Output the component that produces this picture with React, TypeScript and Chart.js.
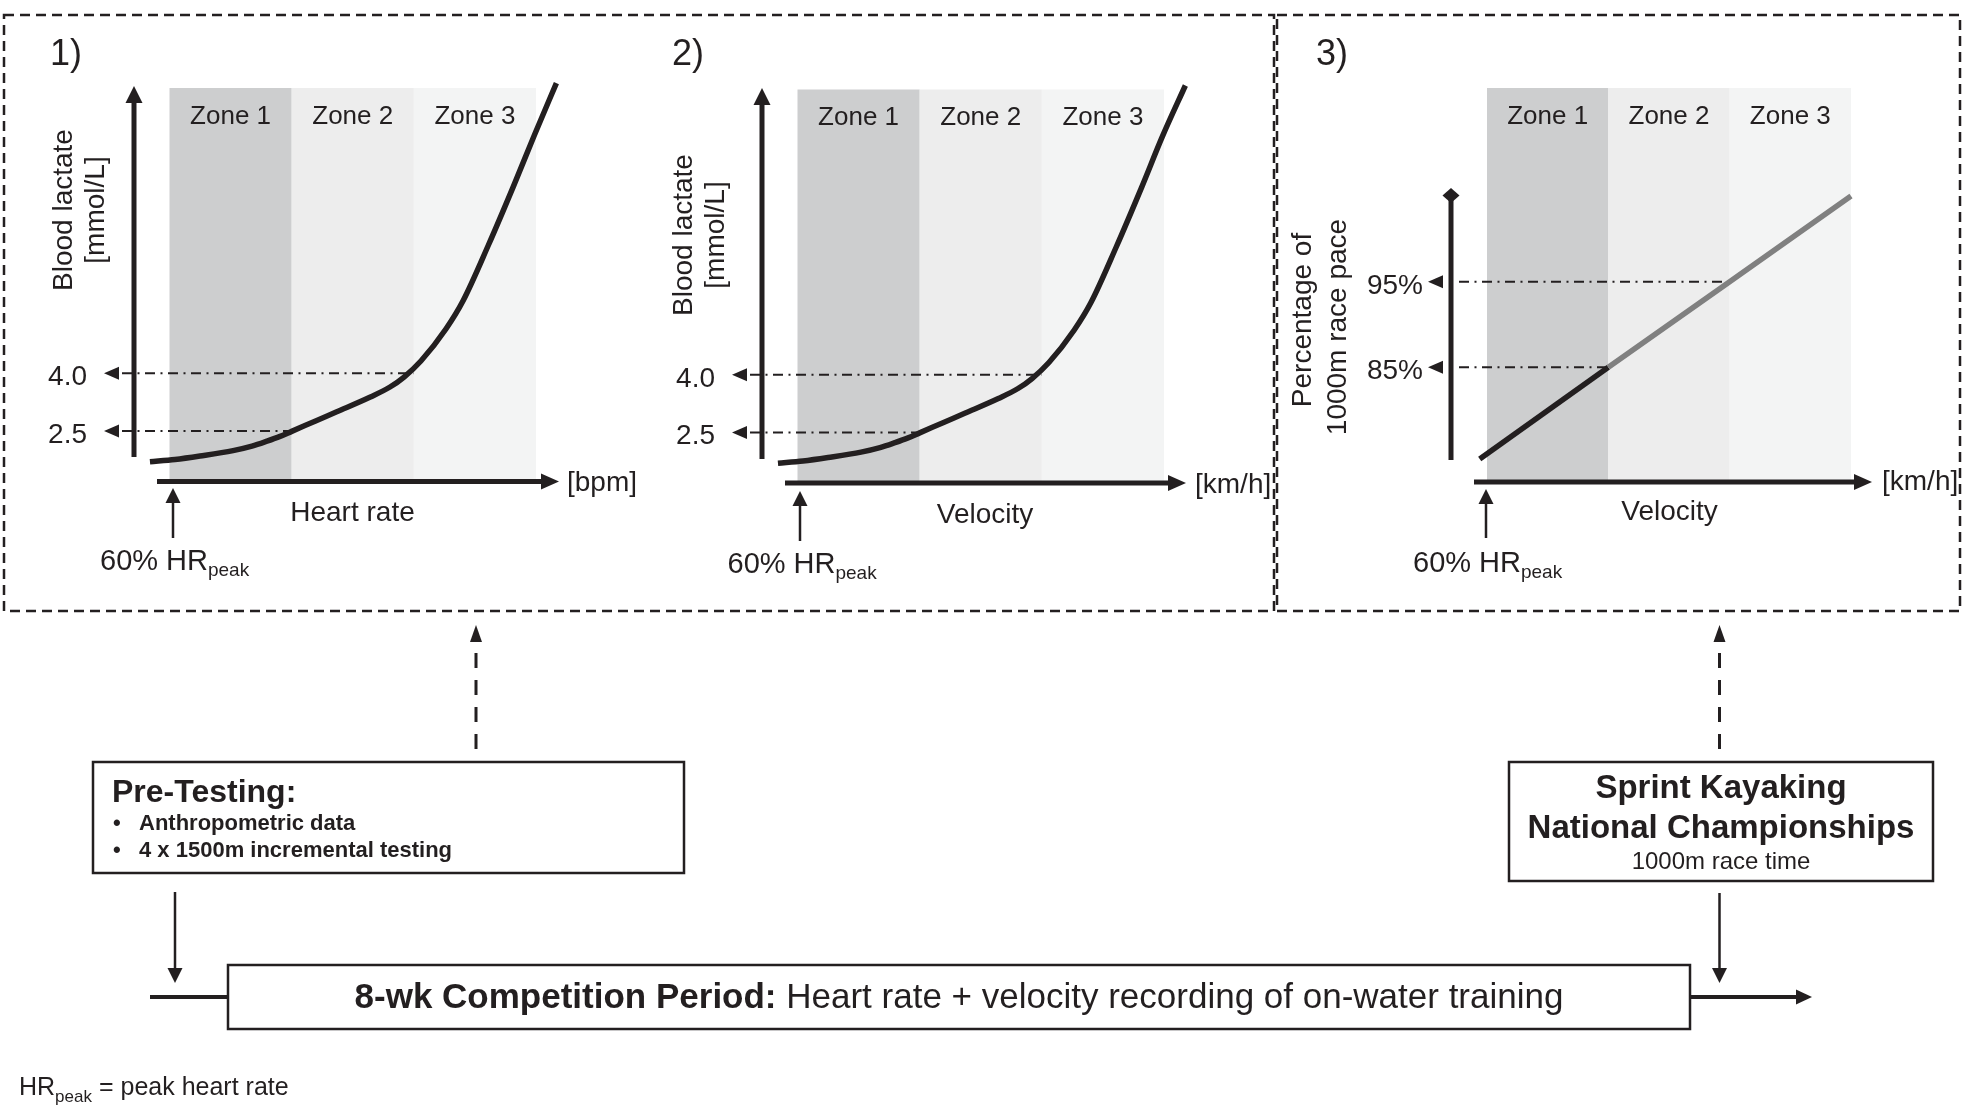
import React, { useEffect, useRef } from "react";
import { Chart, registerables } from "chart.js";

Chart.register(...registerables);

const W = 1968;
const H = 1107;
const FONT = '"Liberation Sans", Arial, Helvetica, sans-serif';
const INK = "#231f20";
const GREY_LINE = "#808080";

// ---------- data ----------
const zoneNames = ["Zone 1", "Zone 2", "Zone 3"];
const zoneEdges = [0, 1, 2, 3];
const zoneFills = ["#cdcecf", "#ededed", "#f3f4f4"];

// panel 1: lactate vs heart rate (x in zone units)
const heartRateX = [-0.16, 0.045, 0.25, 0.52, 0.675, 0.798, 0.905, 1.0, 1.191, 1.369, 1.644, 1.805, 1.92, 2.058, 2.264, 2.402, 2.609, 2.816, 2.988, 3.167];
const lactateHR = [1.702, 1.76, 1.85, 1.99, 2.107, 2.236, 2.36, 2.49, 2.755, 3.0, 3.384, 3.643, 3.903, 4.319, 5.159, 5.879, 7.322, 8.866, 10.202, 11.541];

// panel 2: lactate vs velocity
const velocityX = [-0.16, 0.045, 0.25, 0.52, 0.675, 0.798, 0.905, 1.0, 1.191, 1.369, 1.644, 1.805, 1.92, 2.058, 2.264, 2.402, 2.609, 2.816, 2.988, 3.175];
const lactateVel = [1.702, 1.76, 1.85, 1.99, 2.107, 2.236, 2.36, 2.49, 2.755, 3.0, 3.384, 3.643, 3.903, 4.319, 5.159, 5.879, 7.322, 8.866, 10.202, 11.52];

const lactateRefs = [2.5, 4.0];
const lactateRefLabels = ["2.5", "4.0"];
const lactateRefEnds = [1, 2];

// panel 3: % of 1000 m race pace vs velocity
const paceX = [-0.06, 1, 2, 3];
const pacePct = [74.3, 85, 95, 105];
const paceSplit = 1;

const paceRefs = [85, 95];
const paceRefLabels = ["85%", "95%"];
const paceRefEnds = [1, 2];

type Panel = {
  key: string;
  num: string;
  numX: number;
  numBase: number;
  area: { l: number; t: number; r: number; b: number };
  yMin: number;
  yMax: number;
  xs: number[];
  ys: number[];
  split: number | null;
  refs: number[];
  refLabels: string[];
  refEnds: number[];
  refLabelRight: number;
  refArrowTip: number;
  refLineStart: number;
  yAxisX: number;
  yAxisTip: number;
  yAxisBottom: number;
  yHead: "arrow" | "diamond";
  xAxisStart: number;
  xAxisTip: number;
  zoneLabelBase: number;
  yTitles: { text: string; base: number; center: number }[];
  xTitle: string;
  xTitleX: number;
  xTitleBase: number;
  unit: string;
  unitX: number;
  unitBase: number;
  hrX: number;
  hrTip: number;
  hrBottom: number;
  hrTextX: number;
  hrTextBase: number;
};

const panels: Panel[] = [
  {
    key: "p1",
    num: "1)",
    numX: 50,
    numBase: 65,
    area: { l: 169.5, t: 88, r: 536, b: 481.5 },
    yMin: 1.187,
    yMax: 11.416,
    xs: heartRateX,
    ys: lactateHR,
    split: null,
    refs: lactateRefs,
    refLabels: lactateRefLabels,
    refEnds: lactateRefEnds,
    refLabelRight: 87,
    refArrowTip: 104,
    refLineStart: 122,
    yAxisX: 134,
    yAxisTip: 86,
    yAxisBottom: 457,
    yHead: "arrow",
    xAxisStart: 157,
    xAxisTip: 559,
    zoneLabelBase: 123.5,
    yTitles: [
      { text: "Blood lactate", base: 71.5, center: 210 },
      { text: "[mmol/L]", base: 104, center: 210 },
    ],
    xTitle: "Heart rate",
    xTitleX: 352.5,
    xTitleBase: 520.5,
    unit: "[bpm]",
    unitX: 567,
    unitBase: 490.5,
    hrX: 173,
    hrTip: 488,
    hrBottom: 538,
    hrTextX: 100,
    hrTextBase: 570,
  },
  {
    key: "p2",
    num: "2)",
    numX: 672,
    numBase: 65,
    area: { l: 797.5, t: 89.5, r: 1164, b: 483 },
    yMin: 1.187,
    yMax: 11.416,
    xs: velocityX,
    ys: lactateVel,
    split: null,
    refs: lactateRefs,
    refLabels: lactateRefLabels,
    refEnds: lactateRefEnds,
    refLabelRight: 715,
    refArrowTip: 732,
    refLineStart: 750,
    yAxisX: 762,
    yAxisTip: 88,
    yAxisBottom: 459,
    yHead: "arrow",
    xAxisStart: 785,
    xAxisTip: 1186,
    zoneLabelBase: 125,
    yTitles: [
      { text: "Blood lactate", base: 692, center: 235 },
      { text: "[mmol/L]", base: 724, center: 235 },
    ],
    xTitle: "Velocity",
    xTitleX: 985,
    xTitleBase: 523,
    unit: "[km/h]",
    unitX: 1195,
    unitBase: 493,
    hrX: 800,
    hrTip: 491,
    hrBottom: 541,
    hrTextX: 727.5,
    hrTextBase: 573,
  },
  {
    key: "p3",
    num: "3)",
    numX: 1316,
    numBase: 65,
    area: { l: 1487, t: 88, r: 1851, b: 482 },
    yMin: 71.6,
    yMax: 117.63,
    xs: paceX,
    ys: pacePct,
    split: paceSplit,
    refs: paceRefs,
    refLabels: paceRefLabels,
    refEnds: paceRefEnds,
    refLabelRight: 1423,
    refArrowTip: 1428,
    refLineStart: 1459,
    yAxisX: 1451,
    yAxisTip: 188,
    yAxisBottom: 460,
    yHead: "diamond",
    xAxisStart: 1474,
    xAxisTip: 1872,
    zoneLabelBase: 123.5,
    yTitles: [
      { text: "Percentage of", base: 1311, center: 320 },
      { text: "1000m race pace", base: 1345.7, center: 327 },
    ],
    xTitle: "Velocity",
    xTitleX: 1669.5,
    xTitleBase: 519.5,
    unit: "[km/h]",
    unitX: 1882,
    unitBase: 490,
    hrX: 1486,
    hrTip: 489,
    hrBottom: 538,
    hrTextX: 1413,
    hrTextBase: 572,
  },
];

function tri(ctx: CanvasRenderingContext2D, pts: number[][]) {
  ctx.beginPath();
  ctx.moveTo(pts[0][0], pts[0][1]);
  for (let i = 1; i < pts.length; i++) ctx.lineTo(pts[i][0], pts[i][1]);
  ctx.closePath();
  ctx.fill();
}

function makePlugin(p: Panel) {
  return {
    id: "deco_" + p.key,
    beforeDatasetsDraw(chart: any) {
      const ctx: CanvasRenderingContext2D = chart.ctx;
      const xs = chart.scales.x;
      const ys = chart.scales.y;
      const a = chart.chartArea;
      ctx.save();
      for (let i = 0; i < zoneNames.length; i++) {
        const x0 = xs.getPixelForValue(zoneEdges[i]);
        const x1 = xs.getPixelForValue(zoneEdges[i + 1]);
        ctx.fillStyle = zoneFills[i];
        ctx.fillRect(x0, a.top, x1 - x0, a.bottom - a.top);
      }
      ctx.fillStyle = INK;
      ctx.font = `26px ${FONT}`;
      ctx.textAlign = "center";
      ctx.textBaseline = "alphabetic";
      for (let i = 0; i < zoneNames.length; i++) {
        const x0 = xs.getPixelForValue(zoneEdges[i]);
        const x1 = xs.getPixelForValue(zoneEdges[i + 1]);
        ctx.fillText(zoneNames[i], (x0 + x1) / 2, p.zoneLabelBase);
      }
      ctx.strokeStyle = INK;
      ctx.lineWidth = 2;
      ctx.setLineDash([10, 5.5, 2, 5.5]);
      p.refs.forEach((v, i) => {
        const y = ys.getPixelForValue(v);
        const xe = xs.getPixelForValue(p.refEnds[i]);
        ctx.beginPath();
        ctx.moveTo(p.refLineStart, y);
        ctx.lineTo(xe, y);
        ctx.stroke();
      });
      ctx.setLineDash([]);
      ctx.restore();
    },
    afterDatasetsDraw(chart: any) {
      const ctx: CanvasRenderingContext2D = chart.ctx;
      const ys = chart.scales.y;
      const a = chart.chartArea;
      ctx.save();
      ctx.fillStyle = INK;
      ctx.strokeStyle = INK;
      if (p.yHead === "arrow") {
        ctx.fillRect(p.yAxisX - 2.5, p.yAxisTip + 15, 5, p.yAxisBottom - p.yAxisTip - 15);
        tri(ctx, [
          [p.yAxisX, p.yAxisTip],
          [p.yAxisX - 8.5, p.yAxisTip + 17],
          [p.yAxisX + 8.5, p.yAxisTip + 17],
        ]);
      } else {
        ctx.fillRect(p.yAxisX - 2.5, p.yAxisTip + 8, 5, p.yAxisBottom - p.yAxisTip - 8);
        tri(ctx, [
          [p.yAxisX, p.yAxisTip],
          [p.yAxisX + 8.5, p.yAxisTip + 7.5],
          [p.yAxisX, p.yAxisTip + 15],
          [p.yAxisX - 8.5, p.yAxisTip + 7.5],
        ]);
      }
      const xy = a.bottom;
      ctx.fillRect(p.xAxisStart, xy - 2.5, p.xAxisTip - 17 - p.xAxisStart, 5);
      tri(ctx, [
        [p.xAxisTip, xy],
        [p.xAxisTip - 18, xy - 8],
        [p.xAxisTip - 18, xy + 8],
      ]);
      ctx.font = `28px ${FONT}`;
      ctx.textAlign = "right";
      ctx.textBaseline = "alphabetic";
      p.refs.forEach((v, i) => {
        const y = ys.getPixelForValue(v);
        tri(ctx, [
          [p.refArrowTip, y],
          [p.refArrowTip + 15, y - 6.5],
          [p.refArrowTip + 15, y + 6.5],
        ]);
        ctx.fillText(p.refLabels[i], p.refLabelRight, y + 12);
      });
      ctx.textAlign = "left";
      ctx.font = `36px ${FONT}`;
      ctx.fillText(p.num, p.numX, p.numBase);
      ctx.font = `28px ${FONT}`;
      ctx.textAlign = "center";
      p.yTitles.forEach((t) => {
        ctx.save();
        ctx.translate(t.base, t.center);
        ctx.rotate(-Math.PI / 2);
        ctx.fillText(t.text, 0, 0);
        ctx.restore();
      });
      ctx.fillText(p.xTitle, p.xTitleX, p.xTitleBase);
      ctx.textAlign = "left";
      ctx.fillText(p.unit, p.unitX, p.unitBase);
      ctx.lineWidth = 2.5;
      ctx.beginPath();
      ctx.moveTo(p.hrX, p.hrBottom);
      ctx.lineTo(p.hrX, p.hrTip + 12);
      ctx.stroke();
      tri(ctx, [
        [p.hrX, p.hrTip],
        [p.hrX - 7.5, p.hrTip + 15],
        [p.hrX + 7.5, p.hrTip + 15],
      ]);
      ctx.font = `29px ${FONT}`;
      const main = "60% HR";
      ctx.fillText(main, p.hrTextX, p.hrTextBase);
      const w = ctx.measureText(main).width;
      ctx.font = `19px ${FONT}`;
      ctx.fillText("peak", p.hrTextX + w, p.hrTextBase + 6);
      ctx.restore();
    },
  };
}

function PanelChart({ p }: { p: Panel }) {
  const ref = useRef<HTMLCanvasElement | null>(null);
  useEffect(() => {
    if (!ref.current) return;
    const pts = p.xs.map((x, i) => ({ x, y: p.ys[i] }));
    const datasets: any[] = [];
    if (p.split === null) {
      datasets.push({
        data: pts,
        borderColor: INK,
        borderWidth: 5.5,
        pointRadius: 0,
        fill: false,
        cubicInterpolationMode: "monotone",
        clip: false,
      });
    } else {
      datasets.push({
        data: pts.slice(p.split),
        borderColor: GREY_LINE,
        borderWidth: 5.5,
        pointRadius: 0,
        fill: false,
        tension: 0,
        clip: false,
      });
      datasets.push({
        data: pts.slice(0, p.split + 1),
        borderColor: INK,
        borderWidth: 5.5,
        pointRadius: 0,
        fill: false,
        tension: 0,
        clip: false,
      });
    }
    const chart = new Chart(ref.current, {
      type: "line",
      data: { datasets },
      options: {
        animation: false,
        responsive: false,
        maintainAspectRatio: false,
        devicePixelRatio: 1,
        events: [],
        layout: {
          padding: { left: p.area.l, top: p.area.t, right: W - p.area.r, bottom: H - p.area.b },
        },
        scales: {
          x: { type: "linear", min: 0, max: 3, display: false },
          y: { type: "linear", min: p.yMin, max: p.yMax, display: false },
        },
        plugins: { legend: { display: false }, tooltip: { enabled: false } },
      } as any,
      plugins: [makePlugin(p) as any],
    });
    return () => chart.destroy();
  }, [p]);
  return (
    <canvas
      ref={ref}
      width={W}
      height={H}
      style={{ position: "absolute", left: 0, top: 0, width: W, height: H }}
    />
  );
}

function Flow() {
  const s = { fill: "none", stroke: INK } as const;
  return (
    <svg
      width={W}
      height={H}
      style={{ position: "absolute", left: 0, top: 0, pointerEvents: "none" }}
      fontFamily={FONT}
    >
      <rect x={4} y={15} width={1270} height={596} {...s} strokeWidth={2.5} strokeDasharray="10 6" />
      <rect x={1277} y={15} width={683} height={596} {...s} strokeWidth={2.5} strokeDasharray="10 6" />

      <line x1={476} y1={749} x2={476} y2={641} {...s} strokeWidth={3} strokeDasharray="15 12" />
      <polygon points="476,625 470,642 482,642" fill={INK} />
      <line x1={1719.5} y1={749} x2={1719.5} y2={641} {...s} strokeWidth={3} strokeDasharray="15 12" />
      <polygon points="1719.5,625 1713.5,642 1725.5,642" fill={INK} />

      <rect x={93} y={762} width={591} height={111} fill="#fff" stroke={INK} strokeWidth={2.5} />
      <text x={112} y={802} fontSize={32} fontWeight="bold" fill={INK}>Pre-Testing:</text>
      <text x={113} y={830} fontSize={22} fontWeight="bold" fill={INK}>•</text>
      <text x={139} y={830} fontSize={22} fontWeight="bold" fill={INK}>Anthropometric data</text>
      <text x={113} y={857} fontSize={22} fontWeight="bold" fill={INK}>•</text>
      <text x={139} y={857} fontSize={22} fontWeight="bold" fill={INK}>4 x 1500m incremental testing</text>

      <line x1={175} y1={892} x2={175} y2={970} {...s} strokeWidth={2.5} />
      <polygon points="175,983 167.5,968 182.5,968" fill={INK} />

      <line x1={150} y1={997} x2={228} y2={997} {...s} strokeWidth={4} />
      <rect x={228} y={965} width={1462} height={64} fill="#fff" stroke={INK} strokeWidth={2.5} />
      <text x={959} y={1008} fontSize={35} fill={INK} textAnchor="middle" style={{ whiteSpace: "pre" }}>
        <tspan fontWeight="bold">8-wk Competition Period:</tspan>
        <tspan> Heart rate + velocity recording of on-water training</tspan>
      </text>
      <line x1={1690} y1={997} x2={1798} y2={997} {...s} strokeWidth={4} />
      <polygon points="1812,997 1796,989.5 1796,1004.5" fill={INK} />

      <rect x={1509} y={762} width={424} height={119} fill="#fff" stroke={INK} strokeWidth={2.5} />
      <text x={1721} y={798} fontSize={33} fontWeight="bold" fill={INK} textAnchor="middle">Sprint Kayaking</text>
      <text x={1721} y={838} fontSize={33} fontWeight="bold" fill={INK} textAnchor="middle">National Championships</text>
      <text x={1721} y={869} fontSize={24} fill={INK} textAnchor="middle">1000m race time</text>

      <line x1={1719.5} y1={893} x2={1719.5} y2={970} {...s} strokeWidth={2.5} />
      <polygon points="1719.5,983 1712,968 1727,968" fill={INK} />

      <text x={19} y={1095} fontSize={25} fill={INK} style={{ whiteSpace: "pre" }}>
        <tspan>HR</tspan>
        <tspan fontSize={17} dy={7}>peak</tspan>
        <tspan dy={-7}> = peak heart rate</tspan>
      </text>
    </svg>
  );
}

export default function App() {
  useEffect(() => {
    document.body.style.margin = "0";
    document.documentElement.style.overflow = "hidden";
  }, []);
  return (
    <div style={{ position: "absolute", left: 0, top: 0, width: W, height: H, background: "#fff", overflow: "hidden" }}>
      {panels.map((p) => (
        <PanelChart key={p.key} p={p} />
      ))}
      <Flow />
    </div>
  );
}
